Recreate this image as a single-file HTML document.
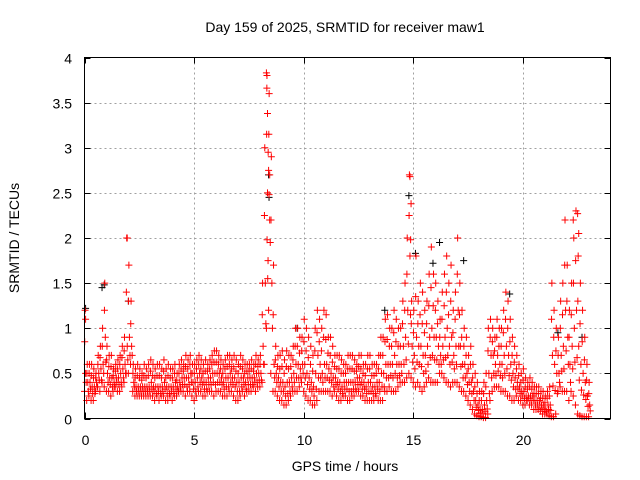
<!DOCTYPE html>
<html><head><meta charset="utf-8"><style>
html,body{margin:0;padding:0;background:#fff;}
svg{display:block;font-family:"Liberation Sans",sans-serif;}
</style></head><body>
<svg id="chart" width="640" height="480" viewBox="0 0 640 480" xmlns="http://www.w3.org/2000/svg">
<rect width="640" height="480" fill="#fff"/>
<text x="345" y="32" text-anchor="middle" font-size="14">Day 159 of 2025, SRMTID for receiver maw1</text>
<text x="345" y="471" text-anchor="middle" font-size="14">GPS time / hours</text>
<text transform="translate(19,238) rotate(-90)" text-anchor="middle" font-size="14">SRMTID / TECUs</text>
<g id="grid"></g>
<g id="ticks"></g>
<g id="black" stroke="#000" stroke-width="1" fill="none"></g>
<g id="red" stroke="#f00" stroke-width="1" fill="none"></g>
<rect x="84.5" y="57.5" width="526" height="361" fill="none" stroke="#000" stroke-width="1"/>
</svg>
<script>
const xTicks=[0,5,10,15,20];
const yTicks=[0,0.5,1,1.5,2,2.5,3,3.5,4];
const yTickLabels=["0","0.5","1","1.5","2","2.5","3","3.5","4"];
const step=0.1;
const lo=[.3,.2,.25,.2,.2,.3,.35,.3,.4,.35, .3,.3,.25,.3,.35,.3,.3,.35,.4,.5, .5,.6,.3,.25,.25,.25,.25,.25,.25,.25, .25,.25,.2,.25,.2,.25,.25,.2,.2,.25, .2,.25,.25,.3,.3,.3,.25,.3,.3,.25, .2,.25,.3,.3,.25,.25,.3,.3,.3,.25, .3,.3,.3,.25,.25,.25,.3,.3,.25,.2, .2,.25,.3,.25,.3,.3,.3,.35,.3,.35, .35,.4,.6,1.0,1.2,.5,.3,.3,.25,.2, .2,.15,.15,.2,.25,.3,.3,.3,.35,.4, .3,.25,.2,.2,.15,.15,.2,.3,.3,.3, .3,.3,.3,.25,.3,.25,.2,.2,.25,.25, .2,.2,.25,.25,.3,.3,.25,.25,.2,.2, .2,.2,.2,.25,.2,.2,.2,.3,.3,.35, .3,.3,.3,.35,.4,.4,.4,.45,.5,.45, .4,.35,.4,.35,.3,.35,.4,.45,.4,.4, .4,.4,.5,.5,.45,.4,.4,.35,.4,.4, .4,.35,.3,.3,.25,.2,.15,.1,.05,.03, .02,.02,.01,.01,.05,.2,.3,.35,.35,.35, .3,.3,.3,.25,.25,.2,.2,.25,.2,.2, .15,.15,.2,.15,.15,.1,.1,.1,.08,.05, .05,.05,.03,.02,.02,.05,.3,.35,.3,.3, .3,.2,.3,.25,.15,.05,.03,.02,.02,.02, .02];
const mid=[.5,.4,.4,.35,.35,.4,.5,.55,.6,.9, .5,.45,.45,.4,.45,.45,.5,.55,.6,.8, .9,.8,.4,.35,.35,.35,.35,.35,.35,.35, .4,.35,.35,.35,.35,.35,.4,.35,.35,.35, .35,.4,.35,.4,.45,.45,.45,.45,.5,.4, .4,.45,.5,.45,.4,.4,.45,.45,.5,.5, .5,.5,.45,.4,.45,.45,.5,.45,.45,.4, .4,.45,.45,.4,.45,.45,.45,.45,.5,.5, .5,.8,1.5,2.5,2.7,1.5,.6,.5,.45,.4, .4,.35,.4,.4,.45,.5,.6,.6,.55,.6, .6,.5,.45,.4,.35,.5,.7,.6,.5,.6, .6,.55,.5,.45,.45,.4,.4,.35,.4,.4, .4,.4,.4,.4,.45,.45,.4,.4,.35,.4, .4,.35,.35,.4,.4,.5,.5,.6,.6,.6, .6,.7,.6,.6,.6,.8,.9,1.2,1.8,.8, .7,.9,.8,.8,.7,.7,.8,.9,1.0,.9, .9,.8,.7,.8,.9,1.0,.8,.9,.7,.8, 1.2,.8,.6,.6,.5,.4,.4,.3,.2,.15, .1,.1,.15,.2,.5,.7,.7,.6,.7,.6, .6,.7,.8,.7,.6,.5,.45,.4,.35,.3, .3,.25,.25,.25,.25,.2,.2,.2,.15,.15, .1,.15,.15,.7,.6,.5,.5,.7,.8,1.2, .9,.6,.8,1.0,1.2,.8,.6,.5,.4,.25, .15];
const hi=[1.2,.6,.6,.6,.55,.5,.7,.8,1.0,1.5, .8,.7,.7,.55,.6,.65,.7,.8,.9,2.0, 1.7,1.3,.6,.55,.6,.55,.5,.6,.55,.6, .65,.6,.55,.6,.6,.55,.65,.55,.6,.55, .55,.6,.5,.6,.65,.6,.7,.65,.7,.6, .6,.65,.7,.65,.6,.65,.6,.65,.7,.75, .75,.7,.65,.6,.65,.7,.7,.65,.7,.65, .6,.7,.65,.6,.6,.6,.65,.6,.7,.65, .7,1.5,3.0,3.8,3.6,2.9,1.7,.8,.7,.7, .75,.65,.75,.7,.7,.8,1.0,1.0,.9,.9, 1.1,1.0,.9,.8,.7,1.0,1.2,1.1,1.0,1.2, 1.15,.9,.9,.8,.7,.7,.7,.65,.6,.6, .7,.7,.7,.65,.6,.7,.7,.6,.6,.7, .7,.6,.6,.6,.7,.9,.9,1.1,1.15,1.0, 1.0,1.2,1.1,1.0,1.0,1.3,1.5,2.0,2.7,1.3, 1.2,1.8,1.3,1.5,1.4,1.2,1.3,1.6,1.9,1.6, 1.5,1.3,1.1,1.4,1.6,1.8,1.5,1.7,1.2,1.4, 2.0,1.5,1.2,1.0,.9,.7,.8,.6,.5,.4, .3,.3,.4,.5,1.0,1.1,1.0,.9,1.1,1.0, 1.0,1.2,1.4,1.3,1.1,.9,.8,.7,.6,.5, .55,.45,.4,.45,.4,.35,.35,.35,.3,.3, .25,.3,.35,1.5,1.2,1.0,.9,1.3,1.5,2.2, 1.7,1.2,1.5,2.0,2.3,1.8,1.5,1.2,.9,.6, .4];
const spikeT=[8.3,8.32,8.35,8.38,8.4,8.42,8.45,8.33,8.36,14.85,14.9,14.88,22.5,22.55,22.3,1.95,0.05];
const spikeV=[3.83,3.66,3.38,2.95,2.75,2.48,2.2,1.98,1.55,2.68,2.38,1.98,2.27,2.05,2.2,2.0,1.1];
const blackT=[0.05,0.9,8.4,8.42,14.8,15.1,15.9,16.2,17.3,21.6,22.7,2.0,9.7,19.4,13.7,0.8];
const blackV=[1.22,1.48,2.7,2.45,2.47,1.83,1.72,1.95,1.75,0.95,0.9,1.3,1.0,1.38,1.2,1.45];

const X0=84.5,X1=610.5,Y0=418.5,Y1=57.5;
const sx=v=>X0+v/24*(X1-X0);
const sy=v=>Y0-v/4*(Y0-Y1);
const NS="http://www.w3.org/2000/svg";
const grid=document.getElementById('grid'),ticks=document.getElementById('ticks');
function ln(g,x1,y1,x2,y2,attrs){const l=document.createElementNS(NS,'line');l.setAttribute('x1',x1);l.setAttribute('y1',y1);l.setAttribute('x2',x2);l.setAttribute('y2',y2);for(const k in attrs)l.setAttribute(k,attrs[k]);g.appendChild(l);return l;}
function txt(g,x,y,s,anchor){const t=document.createElementNS(NS,'text');t.setAttribute('x',x);t.setAttribute('y',y);t.setAttribute('text-anchor',anchor);t.setAttribute('font-size','14');t.textContent=s;g.appendChild(t);return t;}
const gs={stroke:'#a0a0a0','stroke-width':1,'stroke-dasharray':'2,3'};
xTicks.forEach(v=>{const x=Math.round(sx(v))+0.5;
 if(v>0){const g=ln(grid,x,Y1,x,Y0,gs);}
 ln(ticks,x,Y0,x,Y0-6,{stroke:'#000'});ln(ticks,x,Y1,x,Y1+6,{stroke:'#000'});
 const t=txt(ticks,x,445,String(v),'middle');});
yTicks.forEach((v,i)=>{const y=Math.round(sy(v))+0.5;
 if(v>0&&v<4){const g=ln(grid,X0,y,X1,y,gs);}
 ln(ticks,X0,y,X0+6,y,{stroke:'#000'});ln(ticks,X1,y,X1-6,y,{stroke:'#000'});
 const t=txt(ticks,72,y+5,yTickLabels[i],'end');});
function plus(g,t,v,name){const x=sx(t),y=sy(v);const p=document.createElementNS(NS,'path');
 p.setAttribute('d','M'+(x-3.5)+' '+y+'h7M'+x+' '+(y-3.5)+'v7');
 
 
 g.appendChild(p);}
const red=document.getElementById('red'),black=document.getElementById('black');
blackT.forEach((t,i)=>plus(black,t,blackV[i],'black-point'));
lo.forEach((v,i)=>{const t=i*step;plus(red,t,v,'red-point');plus(red,t+0.05,mid[i],'red-point');plus(red,t+0.025,hi[i],'red-point');
 plus(red,t+0.075,(lo[i]+mid[i])/2,'red-point');plus(red,t+0.01,(mid[i]+hi[i])/2,'red-point');});
spikeT.forEach((t,i)=>plus(red,t,spikeV[i],'red-point'));
</script>
</body></html>
